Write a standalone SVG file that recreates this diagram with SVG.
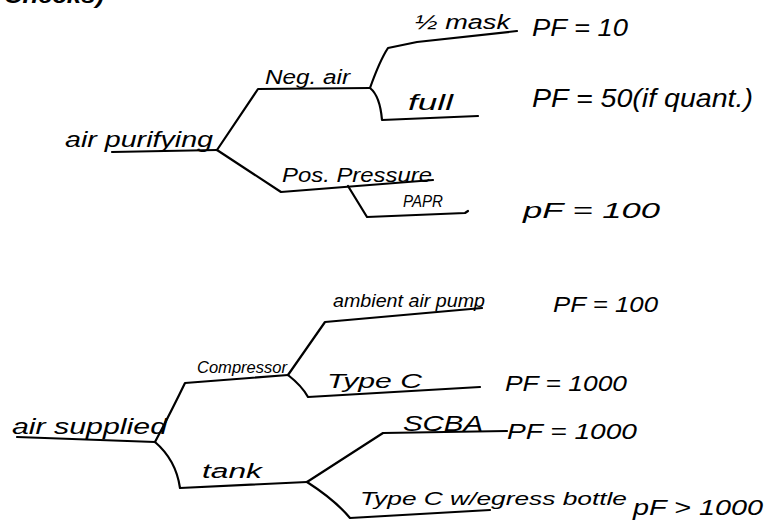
<svg xmlns="http://www.w3.org/2000/svg" width="772" height="521" viewBox="0 0 772 521">
<style>
.t{font-family:"Liberation Sans",Arial,sans-serif;font-style:italic;fill:#000;}
.c{fill:none;stroke:#000;stroke-width:2.2;stroke-linecap:round;stroke-linejoin:round;}
</style>
<rect width="772" height="521" fill="#fff"/>
<text class="t" x="4" y="3" font-size="22" font-weight="bold" font-style="normal" textLength="100" lengthAdjust="spacingAndGlyphs">Checks)</text>
<g id="connectors">
<path class="c" d="M112,152 L217,150"/>
<path class="c" d="M217,150 Q240,116 258,89 L370,88"/>
<path class="c" d="M217,150 L281,192 L433,180"/>
<path class="c" d="M370,88 Q380,60 388,48 L417,42 L517,31"/>
<path class="c" d="M370,88 Q380,96 382,120 L478,116"/>
<path class="c" d="M348,186 L367,217 L465,213 L468,211"/>
<path class="c" d="M17,437 L155,442"/>
<path class="c" d="M155,442 Q172,410 185,383 L288,375"/>
<path class="c" d="M288,375 L325,322 L482,308"/>
<path class="c" d="M288,375 Q302,386 308,397 L480,387"/>
<path class="c" d="M155,442 Q176,460 180,488 L307,482"/>
<path class="c" d="M307,482 L383,433 L507,431"/>
<path class="c" d="M307,482 Q335,500 350,518 L490,510"/>
</g>
<g id="air-purifying"><text class="t" x="65" y="147" font-size="22" textLength="148" lengthAdjust="spacingAndGlyphs">air purifying</text></g>
<g id="neg-air"><text class="t" x="265" y="84" font-size="20" textLength="85" lengthAdjust="spacingAndGlyphs">Neg. air</text></g>
<g id="half-mask">
<text class="t" x="415" y="29" font-size="20" textLength="95" lengthAdjust="spacingAndGlyphs">½ mask</text>
<text class="t" x="532" y="36" font-size="24" textLength="96" lengthAdjust="spacingAndGlyphs">PF = 10</text>
</g>
<g id="full">
<text class="t" x="408" y="110" font-size="22" textLength="45" lengthAdjust="spacingAndGlyphs">full</text>
<text class="t" x="532" y="107" font-size="26" textLength="221" lengthAdjust="spacingAndGlyphs">PF = 50(if quant.)</text>
</g>
<g id="pos-pressure"><text class="t" x="282" y="182" font-size="20" textLength="150" lengthAdjust="spacingAndGlyphs">Pos. Pressure</text></g>
<g id="papr">
<text class="t" x="403" y="207" font-size="16" textLength="40" lengthAdjust="spacingAndGlyphs">PAPR</text>
<text class="t" x="523" y="218" font-size="22" textLength="137" lengthAdjust="spacingAndGlyphs">pF = 100</text>
</g>
<g id="air-supplied"><text class="t" x="12" y="434" font-size="22" textLength="155" lengthAdjust="spacingAndGlyphs">air supplied</text></g>
<g id="compressor"><text class="t" x="197" y="373" font-size="16" textLength="90" lengthAdjust="spacingAndGlyphs">Compressor</text></g>
<g id="ambient-air-pump">
<text class="t" x="333" y="307" font-size="18" textLength="152" lengthAdjust="spacingAndGlyphs">ambient air pump</text>
<text class="t" x="553" y="312" font-size="22" textLength="105" lengthAdjust="spacingAndGlyphs">PF = 100</text>
</g>
<g id="type-c">
<text class="t" x="327" y="388" font-size="20" textLength="95" lengthAdjust="spacingAndGlyphs">Type C</text>
<text class="t" x="505" y="391" font-size="22" textLength="122" lengthAdjust="spacingAndGlyphs">PF = 1000</text>
</g>
<g id="tank"><text class="t" x="202" y="478" font-size="20" textLength="60" lengthAdjust="spacingAndGlyphs">tank</text></g>
<g id="scba">
<text class="t" x="403" y="431" font-size="22" textLength="80" lengthAdjust="spacingAndGlyphs">SCBA</text>
<text class="t" x="507" y="439" font-size="22" textLength="130" lengthAdjust="spacingAndGlyphs">PF = 1000</text>
</g>
<g id="type-c-egress">
<text class="t" x="360" y="505" font-size="18" textLength="267" lengthAdjust="spacingAndGlyphs">Type C w/egress bottle</text>
<text class="t" x="633" y="515" font-size="22" textLength="130" lengthAdjust="spacingAndGlyphs">pF &gt; 1000</text>
</g>
</svg>
